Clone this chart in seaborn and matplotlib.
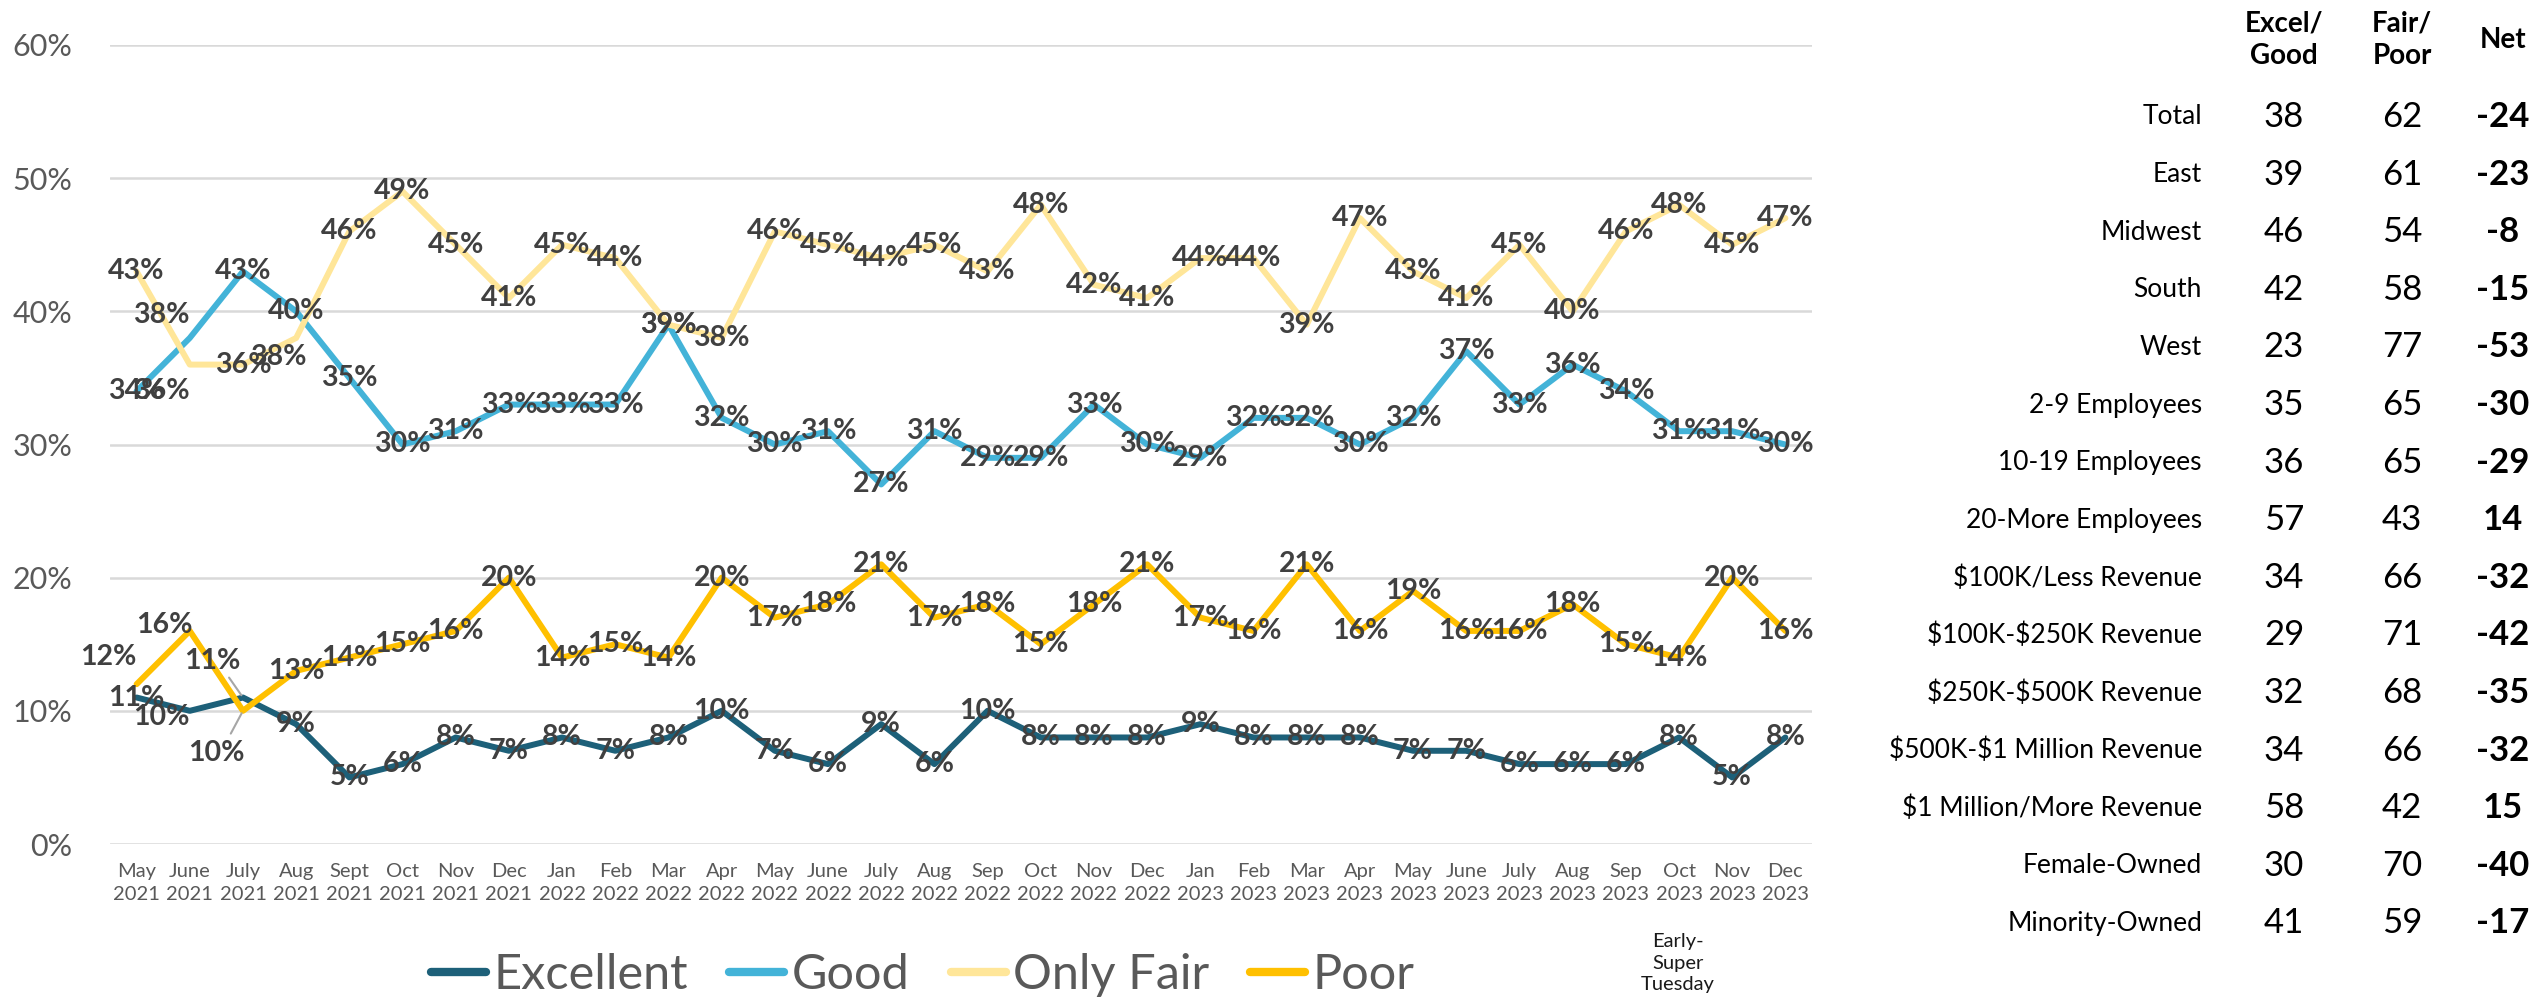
import matplotlib
matplotlib.use("Agg")
import matplotlib.pyplot as plt
import seaborn as sns
import pandas as pd
import numpy as np

# ---------------- data ----------------
months = ["May\n2021", "June\n2021", "July\n2021", "Aug\n2021", "Sept\n2021", "Oct\n2021",
          "Nov\n2021", "Dec\n2021", "Jan\n2022", "Feb\n2022", "Mar\n2022", "Apr\n2022",
          "May\n2022", "June\n2022", "July\n2022", "Aug\n2022", "Sep\n2022", "Oct\n2022",
          "Nov\n2022", "Dec\n2022", "Jan\n2023", "Feb\n2023", "Mar\n2023", "Apr\n2023",
          "May\n2023", "June\n2023", "July\n2023", "Aug\n2023", "Sep\n2023", "Oct\n2023",
          "Nov\n2023", "Dec\n2023"]

excellent = [11, 10, 11, 9, 5, 6, 8, 7, 8, 7, 8, 10, 7, 6, 9, 6, 10, 8, 8, 8, 9, 8, 8, 8,
             7, 7, 6, 6, 6, 8, 5, 8]
good = [34, 38, 43, 40, 35, 30, 31, 33, 33, 33, 39, 32, 30, 31, 27, 31, 29, 29, 33, 30, 29,
        32, 32, 30, 32, 37, 33, 36, 34, 31, 31, 30]
only_fair = [43, 36, 36, 38, 46, 49, 45, 41, 45, 44, 39, 38, 46, 45, 44, 45, 43, 48, 42, 41,
             44, 44, 39, 47, 43, 41, 45, 40, 46, 48, 45, 47]
poor = [12, 16, 10, 13, 14, 15, 16, 20, 14, 15, 14, 20, 17, 18, 21, 17, 18, 15, 18, 21, 17,
        16, 21, 16, 19, 16, 16, 18, 15, 14, 20, 16]

series_names = ["Excellent", "Good", "Only Fair", "Poor"]
series_colors = ["#1D6079", "#43B3D8", "#FFE699", "#FFC000"]

yticks = [0, 10, 20, 30, 40, 50, 60]

row_labels = ["Total", "East", "Midwest", "South", "West", "2-9 Employees", "10-19 Employees",
              "20-More Employees", "$100K/Less Revenue", "$100K-$250K Revenue",
              "$250K-$500K Revenue", "$500K-$1 Million Revenue", "$1 Million/More Revenue",
              "Female-Owned", "Minority-Owned"]
excel_good = [38, 39, 46, 42, 23, 35, 36, 57, 34, 29, 32, 34, 58, 30, 41]
fair_poor = [62, 61, 54, 58, 77, 65, 65, 43, 66, 71, 68, 66, 42, 70, 59]
net = [-24, -23, -8, -15, -53, -30, -29, 14, -32, -42, -35, -32, 15, -40, -17]
col_headers = ["Excel/\nGood", "Fair/\nPoor", "Net"]

annotation_text = "Early-\nSuper\nTuesday"

# ---------------- build frame ----------------
values = {"Excellent": excellent, "Good": good, "Only Fair": only_fair, "Poor": poor}
rows = []
for name in series_names:
    for i, v in enumerate(values[name]):
        rows.append({"idx": i, "value": v, "series": name})
df = pd.DataFrame(rows)

# ---------------- figure ----------------
W, H = 2534, 999
sns.set_theme(style="white")
plt.rcParams["font.family"] = ["Lato", "DejaVu Sans"]

fig = plt.figure(figsize=(W / 100, H / 100), dpi=100)
fig.patch.set_facecolor("white")

def fx(px):
    return px / W

def fy(py):
    return 1 - py / H

ax_left, ax_right, ax_top, ax_bot = 110, 1812, 45, 844
ax = fig.add_axes([fx(ax_left), fy(ax_bot), (ax_right - ax_left) / W, (ax_bot - ax_top) / H])
ax.set_facecolor("white")

sns.lineplot(data=df, x="idx", y="value", hue="series", hue_order=series_names,
             palette=dict(zip(series_names, series_colors)), linewidth=4.3, ax=ax,
             legend=True)

ax.set_xlim(-0.5, len(months) - 0.5)
ax.set_ylim(0, 60)
ax.set_yticks(yticks)
ax.set_yticklabels([f"{t}%" for t in yticks], fontsize=22, color="#595959")
ax.set_xticks(range(len(months)))
ax.set_xticklabels(months, fontsize=14.5, color="#595959", linespacing=1.4)
ax.tick_params(axis="y", length=0, pad=27)
ax.tick_params(axis="x", length=0, pad=14)
ax.set_xlabel("")
ax.set_ylabel("")
for s in ax.spines.values():
    s.set_visible(False)
ax.yaxis.grid(True, color="#D9D9D9", linewidth=1.8)
ax.xaxis.grid(False)
ax.set_axisbelow(True)

# data labels (pixel offsets for a few labels that were moved in the original)
offsets = {
    ("Poor", 0): (-28, -27),
    ("Poor", 1): (-25, -6),
    ("Excellent", 1): (-28, 6),
    ("Only Fair", 1): (-28, 26),
    ("Good", 1): (-28, -23),
    ("Only Fair", 3): (-18, 19),
    ("Poor", 2): (-27, 42),
    ("Excellent", 2): (-31, -37),
}
leaders = {("Poor", 2), ("Excellent", 2)}
for name in series_names:
    for i, v in enumerate(values[name]):
        dx, dy = offsets.get((name, i), (0, 0))
        ax.annotate(f"{v}%", xy=(i, v), xytext=(dx * 0.72, -dy * 0.72),
                    textcoords="offset points", ha="center", va="center",
                    fontsize=20.5, fontweight="bold", color="#404040", zorder=10)
        if (name, i) in leaders:
            ax.annotate("", xy=(i, v), xytext=(dx * 0.72 * 0.5, -dy * 0.72 * 0.6),
                        textcoords="offset points",
                        arrowprops=dict(arrowstyle="-", color="#A6A6A6", lw=1.5))

# legend
handles, labels = ax.get_legend_handles_labels()
ax.get_legend().remove()
leg = fig.legend(handles, labels, loc="center", bbox_to_anchor=(fx(923), fy(975)),
                 ncol=4, frameon=False, fontsize=35, handlelength=1.13,
                 handletextpad=0.15, columnspacing=0.85, borderaxespad=0)
for t in leg.get_texts():
    t.set_color("#595959")
for l in leg.get_lines():
    l.set_linewidth(6)

# annotation under Oct 2023
fig.text(fx(1678), fy(963), annotation_text, ha="center", va="center", fontsize=14.5,
         color="#1a1a1a", linespacing=1.3)

# ---------------- table ----------------
col_x = [2284, 2402, 2503]
for cx, h in zip(col_x, col_headers):
    fig.text(fx(cx), fy(40), h, ha="center", va="center", fontsize=20, fontweight="bold",
             color="#000000", linespacing=1.3)

row_y0, row_dy = 117, 57.6
for r, lab in enumerate(row_labels):
    y = row_y0 + r * row_dy
    fig.text(fx(2202), fy(y), lab, ha="right", va="center", fontsize=19, color="#000000",
             parse_math=False)
    fig.text(fx(col_x[0]), fy(y), str(excel_good[r]), ha="center", va="center",
             fontsize=25, color="#000000")
    fig.text(fx(col_x[1]), fy(y), str(fair_poor[r]), ha="center", va="center",
             fontsize=25, color="#000000")
    fig.text(fx(col_x[2]), fy(y), str(net[r]), ha="center", va="center",
             fontsize=25, fontweight="bold", color="#000000")

fig.savefig("out.png", dpi=100, facecolor="white")
